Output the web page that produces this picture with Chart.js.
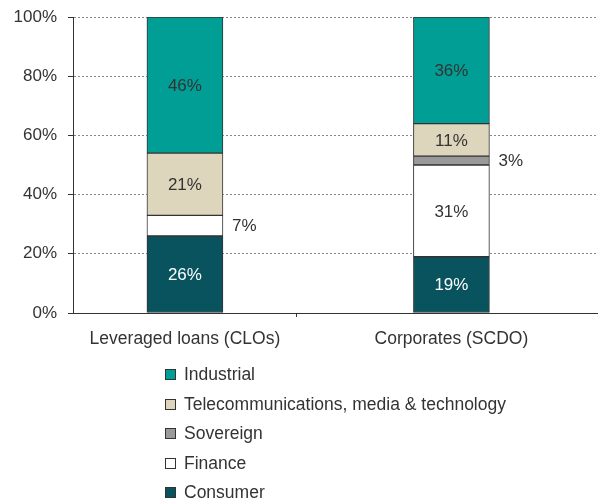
<!DOCTYPE html>
<html>
<head>
<meta charset="utf-8">
<script src="https://cdn.jsdelivr.net/npm/chart.js@4.4.1/dist/chart.umd.min.js"></script>
<style>
  body { margin: 0; background: #fff; }
  #wrap { position: relative; width: 598px; height: 498px; }
  #legend { position: absolute; left: 165px; top: 360px; font: 17.5px "Liberation Sans", Arial, sans-serif; color: #333; }
  .row { height: 29.5px; display: flex; align-items: center; white-space: nowrap; }
  .box { width: 9px; height: 9px; border: 1px solid #333; margin-right: 8px; flex: none; }
</style>
</head>
<body>
<div id="wrap">
  <canvas id="chart" width="598" height="498"></canvas>
  <div id="legend"></div>
</div>
<script>
const categories = ["Leveraged loans (CLOs)", "Corporates (SCDO)"];
const consumer = [26, 19];
const finance = [7, 31];
const sovereign = [0, 3];
const tmt = [21, 11];
const industrial = [46, 36];
const yTicks = [0, 20, 40, 60, 80, 100];

const FONT = "'Liberation Sans', Arial, sans-serif";

// bottom to top
const series = [
  { label: "Consumer", data: consumer, color: "#08535e", text: "#fff" },
  { label: "Finance", data: finance, color: "#ffffff", text: "#333" },
  { label: "Sovereign", data: sovereign, color: "#999999", text: "#333" },
  { label: "Telecommunications, media & technology", data: tmt, color: "#ddd5bc", text: "#333" },
  { label: "Industrial", data: industrial, color: "#009e94", text: "#333" }
];

// categories sit at 1 and 2 on a linear axis
const DIVIDER = 1.42;

const barLabels = {
  id: "barLabels",
  afterDatasetsDraw(chart) {
    const ctx = chart.ctx;
    ctx.save();
    ctx.font = "17px " + FONT;
    ctx.textBaseline = "middle";
    chart.data.datasets.forEach((ds, i) => {
      const meta = chart.getDatasetMeta(i);
      meta.data.forEach((bar, j) => {
        const v = ds.data[j].y;
        if (!v) return;
        const midY = (bar.y + bar.base) / 2;
        if (v < 10) {
          ctx.fillStyle = "#333";
          ctx.textAlign = "left";
          ctx.fillText(v + "%", bar.x + bar.width / 2 + 9, midY + 1);
        } else {
          ctx.fillStyle = series[i].text;
          ctx.textAlign = "center";
          ctx.fillText(v + "%", bar.x, midY + 1);
        }
      });
    });
    ctx.restore();
  }
};

const chart = new Chart(document.getElementById("chart"), {
  type: "bar",
  data: {
    datasets: series.map((s) => ({
      label: s.label,
      data: s.data.map((v, k) => ({ x: k + 1, y: v })),
      backgroundColor: s.color,
      borderColor: "#333",
      borderWidth: 1,
      borderSkipped: false,
      barThickness: 76
    }))
  },
  options: {
    responsive: false,
    animation: false,
    layout: { padding: { top: 17, right: 0, bottom: 0, left: 0 } },
    plugins: { legend: { display: false }, tooltip: { enabled: false } },
    scales: {
      x: {
        type: "linear",
        stacked: true,
        offset: false,
        bounds: "data",
        min: 0.58,
        max: 2.55,
        afterBuildTicks: (scale) => {
          scale.ticks = [{ value: 1 }, { value: DIVIDER }, { value: 2 }];
        },
        afterFit: (scale) => {
          scale.height = 185;
          scale.paddingLeft = 0;
          scale.paddingRight = 0;
        },
        ticks: {
          autoSkip: false,
          maxRotation: 0,
          padding: 12,
          color: "#333",
          font: { family: FONT, size: 17.5 },
          callback: (v) => (v === 1 ? categories[0] : v === 2 ? categories[1] : "")
        },
        grid: {
          offset: false,
          drawOnChartArea: false,
          tickLength: 4,
          tickColor: (c) => (c.tick && c.tick.value === DIVIDER ? "#333" : "rgba(0,0,0,0)")
        },
        border: { color: "#333", width: 1 }
      },
      y: {
        stacked: true,
        min: 0,
        max: 100,
        afterBuildTicks: (scale) => {
          scale.ticks = yTicks.map((v) => ({ value: v }));
        },
        afterFit: (scale) => {
          scale.width = 73;
          scale.paddingTop = 0;
          scale.paddingBottom = 0;
        },
        ticks: {
          padding: 11,
          color: "#333",
          font: { family: FONT, size: 17 },
          callback: (v) => v + "%"
        },
        grid: { color: "#888", tickColor: "#333", tickLength: 5 },
        border: { color: "#333", width: 1, dash: [2, 2] }
      }
    }
  },
  plugins: [barLabels]
});

// legend: top of the stack first
const legend = document.getElementById("legend");
series.slice().reverse().forEach((s) => {
  const row = document.createElement("div");
  row.className = "row";
  const box = document.createElement("span");
  box.className = "box";
  box.style.background = s.color;
  const txt = document.createElement("span");
  txt.textContent = s.label;
  row.appendChild(box);
  row.appendChild(txt);
  legend.appendChild(row);
});
</script>
</body>
</html>
